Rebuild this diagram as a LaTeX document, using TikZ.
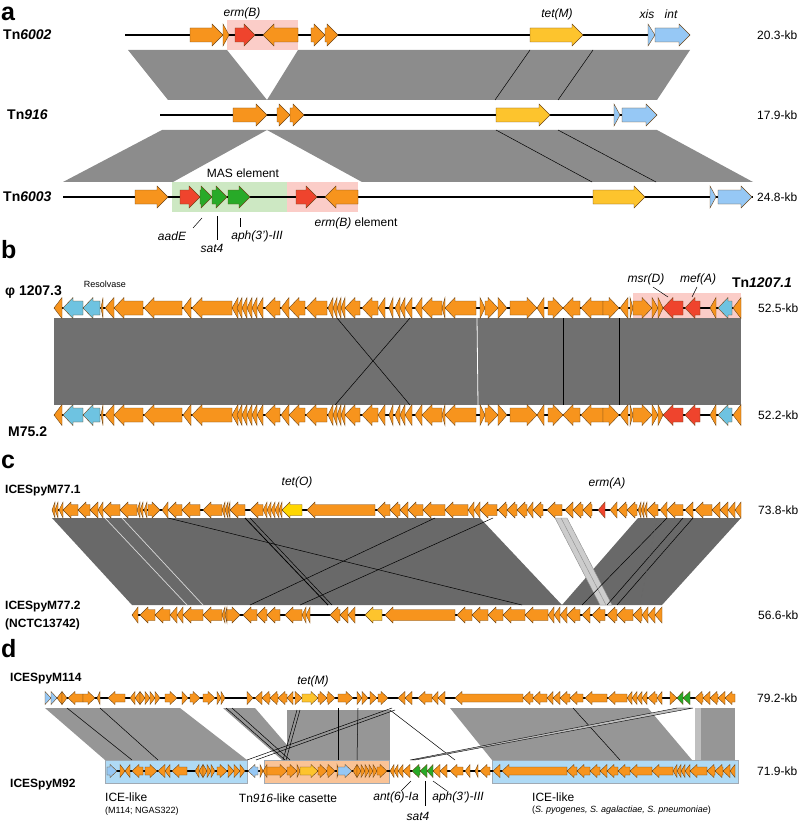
\documentclass[tikz,border=0pt]{standalone}
\usepackage{fontspec}
\setmainfont{Liberation Sans}
\definecolor{org}{RGB}{247,148,29}
\definecolor{redg}{RGB}{239,68,45}
\definecolor{grn}{RGB}{40,170,40}
\definecolor{yel}{RGB}{253,196,45}
\definecolor{yelc}{RGB}{255,214,0}
\definecolor{blu}{RGB}{150,200,245}
\definecolor{cya}{RGB}{110,195,225}
\definecolor{genedge}{RGB}{110,70,25}
\definecolor{pinkbox}{RGB}{251,205,200}
\definecolor{greenbox}{RGB}{205,232,195}
\definecolor{bluebox}{RGB}{175,218,245}
\definecolor{orangebox}{RGB}{250,195,150}
\definecolor{boxedge}{RGB}{160,170,180}
\definecolor{banda}{RGB}{140,140,140}
\definecolor{bandb}{RGB}{112,112,112}
\definecolor{bandc}{RGB}{105,105,105}
\definecolor{bandd}{RGB}{150,150,150}
% current row: centre y, head half height, body half height, head length
\newcommand{\setrow}[4]{\def\rowy{#1}\def\rowh{#2}\def\rowb{#3}\def\rowl{#4}}
% gene arrow from tail #1 to head #2
\newcommand{\gene}[3]{%
  \pgfmathsetmacro{\headx}{#2-sign(#2-#1)*min(\rowl,abs(#2-#1))}
  \filldraw[fill=#3, gene] (#1,\rowy-\rowb) -- (\headx,\rowy-\rowb) -- (\headx,\rowy-\rowh)
    -- (#2,\rowy) -- (\headx,\rowy+\rowh) -- (\headx,\rowy+\rowb) -- (#1,\rowy+\rowb) -- cycle;
}
\tikzset{
  gene/.style={draw=genedge, line width=0.4pt},
  bbone/.style={black, line width=#1},
  hom/.style={black, line width=0.5pt},
  lead/.style={black, line width=0.5pt},
  panel/.style={font=\fontsize{25}{28}\selectfont\bfseries, anchor=base west, inner sep=0},
  rowname/.style={font=\fontsize{14}{16}\selectfont\bfseries, anchor=west, inner sep=0},
  icename/.style={font=\fontsize{12}{14}\selectfont\bfseries, anchor=west, inner sep=0},
  kb/.style={font=\fontsize{12}{14}\selectfont, anchor=west, inner sep=0},
  glab/.style={font=\fontsize{12}{14}\selectfont\itshape, inner sep=0},
  txt/.style={font=\fontsize{12}{14}\selectfont, inner sep=0},
  small/.style={font=\fontsize{9}{11}\selectfont, inner sep=0},
  boxmark/.style={draw=boxedge, line width=0.5pt}
}
\begin{document}
\begin{tikzpicture}[x=1pt,y=-1pt]
\useasboundingbox (0,0) rectangle (799,821);

% ---------------- panel a
\node[panel] (pa) at (1,21) {a};
\fill[pinkbox] (227,20) rectangle (298,50);
\fill[greenbox] (172,182) rectangle (287,212);
\fill[pinkbox] (287,182) rectangle (358,212);
\fill[banda] (128,50) -- (227,50) -- (267,100) -- (168,100) -- cycle;
\fill[banda] (298,50) -- (690,50) -- (657,100) -- (267,100) -- cycle;
\draw[hom] (530,50) -- (495,100);
\draw[hom] (593,50) -- (558,100);
\fill[banda] (162,130) -- (267,130) -- (173,182) -- (63,182) -- cycle;
\fill[banda] (267,130) -- (657,130) -- (753,182) -- (362,182) -- cycle;
\draw[hom] (496,130) -- (592,182);
\draw[hom] (558,130) -- (656,182);

\setrow{35}{11}{7}{11}
\draw[bbone=2pt] (125,35) -- (690,35);
\foreach \t/\h in {190/223, 223/229, 298/263, 311/325, 325/338} \gene{\t}{\h}{org};
\gene{235}{255}{redg}
\gene{530}{583}{yel}
\gene{648}{655}{blu}
\gene{655}{690}{blu}

\setrow{115}{11}{7}{11}
\draw[bbone=2pt] (160,115) -- (657,115);
\foreach \t/\h in {233/267, 277/290, 290/304} \gene{\t}{\h}{org};
\gene{496}{550}{yel}
\gene{614}{620}{blu}
\gene{622}{657}{blu}

\setrow{197}{11}{7}{11}
\draw[bbone=2pt] (63,197) -- (753,197);
\foreach \t/\h in {135/168, 358/325} \gene{\t}{\h}{org};
\foreach \t/\h in {180/200, 296/317} \gene{\t}{\h}{redg};
\foreach \t/\h in {200/212, 212/227, 228/250} \gene{\t}{\h}{grn};
\gene{593}{645}{yel}
\gene{710}{716}{blu}
\gene{718}{752}{blu}

\node[rowname] (tn6002) at (3,35) {Tn\textit{6002}};
\node[rowname] (tn916) at (7,115) {Tn\textit{916}};
\node[rowname] (tn6003) at (3,197) {Tn\textit{6003}};
\node[kb] (kba1) at (757,35) {20.3-kb};
\node[kb] (kba2) at (757,115) {17.9-kb};
\node[kb] (kba3) at (757,197) {24.8-kb};
\node[glab] (ermb) at (242,13) {erm(B)};
\node[glab] (tetm) at (557,14) {tet(M)};
\node[glab] (xis) at (647,14) {xis};
\node[glab] (int) at (671,14) {int};
\node[txt] (mas) at (243,173) {MAS element};
\node[txt] (ermbel) at (356,223) {\textit{erm(B)} element};
\node[glab] (aade) at (172,236) {aadE};
\node[glab] (sat) at (212,248) {sat4};
\node[glab] (aph) at (257,236) {aph(3')-III};
\draw[lead] (202,218) -- (193,228);
\draw[lead] (217,216) -- (217,240);
\draw[lead] (240,218) -- (240,227);

% ---------------- panel b
\node[panel] (pb) at (1,258) {b};
\fill[pinkbox] (633,293) rectangle (741,318);
\fill[bandb] (54,318) rectangle (741,405);
\draw[hom] (337,318) -- (410,405);
\draw[hom] (410,318) -- (335,405);
\draw[white, line width=0.8pt] (477,318) -- (478,405);
\draw[hom] (563,318) -- (563,405);
\draw[hom] (619,318) -- (619,405);

\def\blist{62/54, 103/101, 114/105, 143/114, 182/144, 191/183, 232/192, 238/232, 242/237, 247/242,
  252/247, 257/252, 263/257, 280/265, 289/281, 305/289, 327/306, 333/328, 337/333, 341/337, 345/341,
  360/345, 378/362, 385/378, 393/389, 400/395, 405/400, 412/405, 422/415, 442/422, 445/442, 476/445,
  480/485, 485/498, 498/507, 510/537, 544/537, 548/563, 580/563, 603/581, 603/619, 628/620, 630/633,
  633/652, 652/658, 658/663, 716/710, 741/733}
\foreach \yy in {308,415} {
  \setrow{\yy}{10.5}{7}{10}
  \draw[bbone=2.5pt] (54,\yy) -- (741,\yy);
  \foreach \t/\h in \blist \gene{\t}{\h}{org};
  \foreach \t/\h in {83/63, 100/83, 732/718} \gene{\t}{\h}{cya};
  \foreach \t/\h in {683/663, 700/685} \gene{\t}{\h}{redg};
}

\node[rowname] (phi) at (5,292) {φ 1207.3};
\node[small] (resolv) at (105,284) {Resolvase};
\node[glab] (msrd) at (646,279) {msr(D)};
\node[glab] (mefa) at (698,279) {mef(A)};
\node[rowname, anchor=center] (tn1207) at (762,283) {Tn\textit{1207.1}};
\draw[lead] (653,287) -- (668,297);
\draw[lead] (697,287) -- (692,297);
\node[rowname] (m752) at (8,432) {M75.2};
\node[kb] (kbb1) at (758,308) {52.5-kb};
\node[kb] (kbb2) at (758,415) {52.2-kb};

% ---------------- panel c
\node[panel] (pc) at (1,468) {c};
\fill[bandc] (52,518) -- (480,518) -- (562,605) -- (132,605) -- cycle;
\fill[bandc] (638,518) -- (741,518) -- (662,605) -- (562,605) -- cycle;
\filldraw[fill=black!20, draw=black!45, line width=0.4pt] (555,518) -- (567,518) -- (612,605) -- (600,605) -- cycle;
\draw[black!45, line width=0.4pt] (561,518) -- (606,605);
\draw[white!85!black, line width=0.7pt] (105,518) -- (187,605);
\draw[white!85!black, line width=0.7pt] (122,518) -- (203,605);
\draw[hom] (168,518) -- (522,605);
\draw[hom, line width=0.8pt] (245,518) -- (328,605);
\draw[hom] (250,518) -- (332,605);
\draw[hom] (435,518) -- (250,605);
\draw[hom] (493,518) -- (300,605);
\draw[hom] (667,518) -- (582,605);
\draw[hom] (683,518) -- (607,605);
\draw[hom] (693,518) -- (617,605);
\draw[black!60, line width=0.4pt, dashed] (657,518) -- (640,605);

\setrow{510}{8}{5.5}{8}
\draw[bbone=2pt] (52,510) -- (741,510);
\foreach \t/\h in {55/52, 58/55, 63/59, 78/63, 90/78, 98/90, 103/98, 120/103, 137/120, 140/137, 143/140,
  147/144, 148/160, 168/162, 182/168, 200/182, 222/203, 225/222, 228/225, 230/228, 245/230, 263/250,
  267/263, 271/267, 275/271, 279/275, 282/279, 375/307, 390/377, 400/390, 408/400, 423/408, 445/423,
  468/445, 474/468, 480/474, 497/480, 507/498, 517/507, 527/517, 533/527, 543/533, 562/547, 573/565,
  583/573, 592/583, 617/610, 627/618, 637/627, 641/638, 644/641, 647/644, 658/647, 667/660, 683/667,
  693/685, 712/695, 720/712, 728/720, 735/728, 741/735} \gene{\t}{\h}{org};
\gene{302}{282}{yelc}
\gene{605}{598}{redg}

\setrow{615}{8}{5.5}{8}
\draw[bbone=2pt] (132,615) -- (662,615);
\foreach \t/\h in {138/132, 155/140, 170/155, 177/170, 183/177, 203/183, 222/203, 225/222, 227/225,
  227/240, 257/243, 267/257, 280/267, 302/285, 306/302, 310/306, 340/330, 348/340, 355/348, 455/385,
  472/457, 488/472, 503/488, 525/503, 548/525, 554/548, 560/554, 567/560, 580/567, 590/582, 605/592,
  617/607, 633/617, 642/633, 648/642, 655/648, 662/655} \gene{\t}{\h}{org};
\gene{382}{365}{yel}

\node[icename] (m771) at (5,491) {ICESpyM77.1};
\node[icename] (m772) at (5,607) {ICESpyM77.2};
\node[icename] (nctc) at (5,624) {(NCTC13742)};
\node[glab] (teto) at (297,482) {tet(O)};
\node[glab] (erma) at (607,483) {erm(A)};
\node[kb] (kbc1) at (758,510) {73.8-kb};
\node[kb] (kbc2) at (758,615) {56.6-kb};

% ---------------- panel d
\node[panel] (pd) at (1,657) {d};
\filldraw[fill=bluebox, boxmark] (105,760) rectangle (247,783);
\filldraw[fill=orangebox, boxmark] (264,760) rectangle (389,783);
\filldraw[fill=bluebox, boxmark] (492,760) rectangle (738,783);
\fill[bandd] (45,708) -- (180,708) -- (247,760) -- (105,760) -- cycle;
\fill[bandd] (223,708) -- (255,708) -- (300,760) -- (282,760) -- cycle;
\fill[bandd] (287,710) rectangle (390,760);
\fill[bandd] (450,708) -- (648,708) -- (692,760) -- (492,760) -- cycle;
\fill[bandd] (695,708) rectangle (735,760);
\fill[black!25] (695,708) rectangle (701,760);
\draw[hom] (67,708) -- (132,760);
\draw[hom] (100,708) -- (158,760);
\draw[hom] (226,708) -- (285,760);
\draw[hom] (232,708) -- (290,760);
\draw[hom] (297,710) -- (283,760);
\draw[hom] (300,710) -- (286,760);
\draw[hom] (338,708) -- (338,760);
\draw[hom] (358,708) -- (357,760);
\draw[hom] (247,760) -- (392,708);
\draw[hom] (256,760) -- (395,710);
\draw[hom] (390,710) -- (455,760);
\draw[hom] (573,708) -- (620,760);
\filldraw[fill=black!25, draw=black, line width=0.4pt] (677,708) -- (693,708) -- (415,760) -- (410,760) -- cycle;

\setrow{698}{6.5}{4}{7}
\draw[bbone=1.3pt] (45,698) -- (735,698);
\foreach \t/\h in {62/57, 62/67, 83/68, 83/95, 100/97, 125/108, 135/130, 140/135, 140/145, 145/150,
  150/155, 155/160, 165/177, 182/188, 190/200, 203/215, 217/221, 221/225, 247/253, 262/255, 270/262,
  278/270, 287/278, 293/287, 295/302, 318/327, 327/335, 338/353, 357/362, 362/368, 370/377, 378/388,
  405/398, 412/405, 432/418, 438/432, 445/438, 523/455, 533/523, 547/533, 553/547, 560/553, 570/560,
  583/570, 607/585, 627/608, 632/627, 637/632, 642/637, 647/642, 657/648, 662/657, 670/677, 703/695,
  710/703, 718/710, 725/718, 735/725} \gene{\t}{\h}{org};
\foreach \t/\h in {45/51, 51/57} \gene{\t}{\h}{blu};
\gene{302}{318}{yel}
\foreach \t/\h in {683/677, 690/683} \gene{\t}{\h}{grn};

\setrow{771}{6.5}{4}{7}
\draw[bbone=1.3pt] (107,771) -- (735,771);
\foreach \t/\h in {120/125, 130/125, 143/132, 145/157, 165/158, 170/165, 187/172, 199/195, 203/199,
  203/207, 207/211, 211/215, 217/227, 228/234, 234/240, 240/245, 260/263, 267/263, 267/287, 287/297,
  297/300, 318/327, 327/335, 337/339, 357/353, 357/361, 361/365, 365/369, 369/373, 373/377, 377/387,
  394/390, 398/394, 403/398, 410/403, 440/433, 447/440, 463/450, 470/465, 478/475, 490/480, 500/493,
  567/502, 577/567, 590/577, 600/590, 607/600, 618/607, 630/618, 652/630, 673/652, 677/673, 681/677,
  685/681, 690/685, 707/690, 715/707, 723/715, 730/723, 735/730} \gene{\t}{\h}{org};
\foreach \t/\h in {107/117, 258/248, 338/352} \gene{\t}{\h}{blu};
\gene{300}{318}{yel}
\foreach \t/\h in {420/412, 427/420, 433/427} \gene{\t}{\h}{grn};

\node[icename] (m114) at (10,679) {ICESpyM114};
\node[icename] (m92) at (10,785) {ICESpyM92};
\node[glab] (tetm2) at (313,681) {tet(M)};
\node[kb] (kbd1) at (757,698) {79.2-kb};
\node[kb] (kbd2) at (757,771) {71.9-kb};
\node[txt, anchor=west] (icel1) at (105,797) {ICE-like};
\node[small, anchor=west] (icel1b) at (105,811) {(M114; NGAS322)};
\node[txt] (tn916c) at (288,798) {Tn\textit{916}-like casette};
\node[glab] (ant6) at (396,797) {ant(6)-Ia};
\node[glab] (sat4d) at (418,816) {sat4};
\node[glab] (aphd) at (458,797) {aph(3')-III};
\node[txt, anchor=west] (icel2) at (532,797) {ICE-like};
\node[small, anchor=west] (icel2b) at (532,810) {(\textit{S. pyogenes, S. agalactiae, S. pneumoniae})};
\draw[lead] (411,781) -- (401,791);
\draw[lead] (425,781) -- (425,806);
\draw[lead] (433,781) -- (447,791);
\end{tikzpicture}
\end{document}
